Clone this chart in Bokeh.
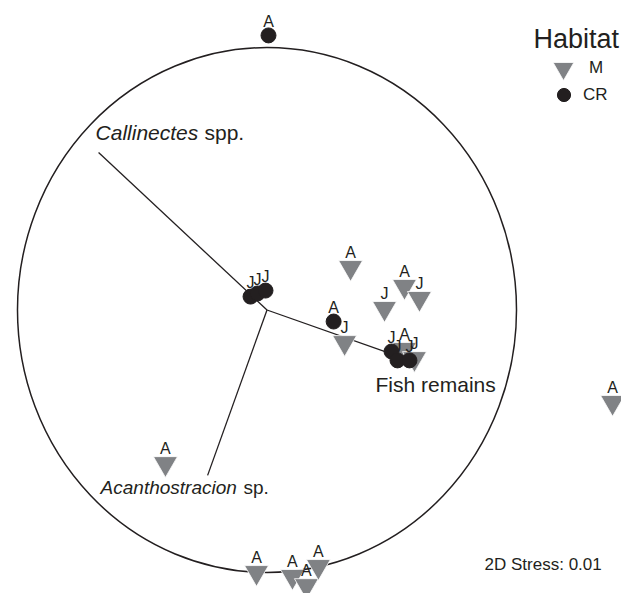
from bokeh.plotting import figure
from bokeh.models import Range1d, Label, Legend, LegendItem
from bokeh.core.properties import value
from bokeh.embed import file_html
from bokeh.resources import INLINE

# ---- data (nMDS coordinates, circle radius = 1) ----
m_x = [0.335, 0.551, 0.611, 0.471, 0.311, 0.551, 0.591, 1.385, -0.407, -0.042, 0.102, 0.158, 0.206]
m_y = [0.162, 0.090, 0.044, 0.006, -0.124, -0.150, -0.185, -0.352, -0.585, -1.000, -1.015, -1.050, -0.977]
m_lab = ["A", "A", "J", "J", "J", "A", "J", "A", "A", "A", "A", "A", "A"]

cr_x = [0.006, 0.267, -0.066, -0.038, -0.006, 0.499, 0.523, 0.571]
cr_y = [1.046, -0.044, 0.051, 0.063, 0.074, -0.158, -0.192, -0.192]
cr_lab = ["A", "A", "J", "J", "J", "J", "J", "J"]

vec_x = [-0.675, 0.527, -0.238]
vec_y = [0.600, -0.177, -0.630]
vec_names = ["Callinectes", "Fish remains", "Acanthostracion"]

stress = 0.01

FONT = "Liberation Sans"
INK = "#231f20"
GREY = "#808285"

p = figure(width=621, height=593, output_backend="svg", toolbar_location=None,
           x_range=Range1d(-1.0681, 1.4208), y_range=Range1d(-1.0800, 1.1790),
           min_border=0)
p.axis.visible = False
p.grid.visible = False
p.outline_line_color = None

# correlation circle
p.ellipse(x=0, y=0, width=2, height=2, fill_color=None, line_color=INK, line_width=1.5)

# vectors
p.segment(x0=[0] * len(vec_x), y0=[0] * len(vec_y), x1=vec_x, y1=vec_y,
          line_color=INK, line_width=1.3)

# points
r_m = p.scatter(m_x, m_y, marker="inverted_triangle", size=24, fill_color=GREY,
                line_color="white", line_width=0.8)
r_cr = p.scatter(cr_x, cr_y, marker="circle", size=15, fill_color=INK, line_color=INK)

p.text(m_x, m_y, text=m_lab, text_align="center", text_baseline="alphabetic",
       y_offset=-15, text_font=value(FONT), text_font_size="16px", text_color=INK)
p.text(cr_x, cr_y, text=cr_lab, text_align="center", text_baseline="alphabetic",
       y_offset=-14, text_font=value(FONT), text_font_size="16px", text_color=INK)

# vector labels
def lab(x, y, t, style="normal", size="21px"):
    p.add_layout(Label(x=x, y=y, text=t, text_font=FONT, text_font_size=size,
                       text_font_style=style, text_color=INK))

lab(-0.687, 0.634, "Callinectes", "italic")
lab(-0.2505, 0.634, "spp.")
lab(-0.667, -0.718, "Acanthostracion", "italic", "19px")
lab(-0.094, -0.718, "sp.", size="19px")
lab(0.435, -0.326, "Fish remains")
lab(0.872, -1.006, "2D Stress: %.2f" % stress, size="17px")

# legend (two blocks so each symbol keeps its own size)
lab(1.068, 0.977, "Habitat", size="27px")

def style_leg(leg):
    leg.label_text_font = FONT
    leg.label_text_font_size = "17px"
    leg.label_text_color = INK
    leg.border_line_color = None
    leg.background_fill_alpha = 0
    leg.padding = 0
    leg.margin = 0
    leg.spacing = 0

leg_m = Legend(items=[LegendItem(label="M", renderers=[r_m])], location=(537, 495))
style_leg(leg_m)
leg_m.glyph_width = 52
leg_m.glyph_height = 60
leg_m.label_standoff = 0

leg_cr = Legend(items=[LegendItem(label="CR", renderers=[r_cr])], location=(547, 482))
style_leg(leg_cr)
leg_cr.glyph_width = 33
leg_cr.glyph_height = 33
leg_cr.label_standoff = 3

p.add_layout(leg_m)
p.add_layout(leg_cr)

open("out.html", "w").write(file_html(p, INLINE))
